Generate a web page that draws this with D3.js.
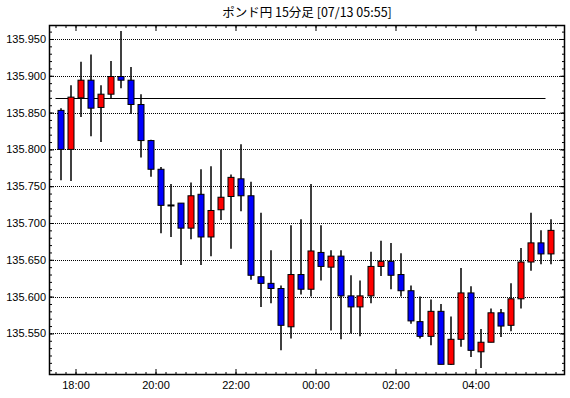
<!DOCTYPE html>
<html>
<head>
<meta charset="utf-8">
<script src="https://cdn.jsdelivr.net/npm/d3@7"></script>
<style>
  body { margin: 0; background: #fff; }
  svg { display: block; }
  .axis text { font-family: "Liberation Sans", Arial, sans-serif; font-size: 11px; fill: #000; }
  .axis line { stroke: #000; stroke-width: 1; }
  .axis path { display: none; }
</style>
</head>
<body>
<div id="chart"></div>
<script>
/* Daten: 15-Minuten-Kerzen GBP/JPY */
const title = "ポンド円 15分足 [07/13 05:55]";
const times = [
  "07/12 17:30", "07/12 17:45", "07/12 18:00", "07/12 18:15", "07/12 18:30", "07/12 18:45",
  "07/12 19:00", "07/12 19:15", "07/12 19:30", "07/12 19:45", "07/12 20:00", "07/12 20:15",
  "07/12 20:30", "07/12 20:45", "07/12 21:00", "07/12 21:15", "07/12 21:30", "07/12 21:45",
  "07/12 22:00", "07/12 22:15", "07/12 22:30", "07/12 22:45", "07/12 23:00", "07/12 23:15",
  "07/12 23:30", "07/12 23:45", "07/13 00:00", "07/13 00:15", "07/13 00:30", "07/13 00:45",
  "07/13 01:00", "07/13 01:15", "07/13 01:30", "07/13 01:45", "07/13 02:00", "07/13 02:15",
  "07/13 02:30", "07/13 02:45", "07/13 03:00", "07/13 03:15", "07/13 03:30", "07/13 03:45",
  "07/13 04:00", "07/13 04:15", "07/13 04:30", "07/13 04:45", "07/13 05:00", "07/13 05:15",
  "07/13 05:30", "07/13 05:45"
];
const open = [
  135.853, 135.800, 135.870, 135.894, 135.857, 135.875, 135.899, 135.894, 135.861, 135.812,
  135.773, 135.7245, 135.727, 135.693, 135.739, 135.681, 135.718, 135.736, 135.760, 135.737,
  135.627, 135.618, 135.611, 135.559, 135.630, 135.610, 135.660, 135.640, 135.655, 135.601,
  135.586, 135.601, 135.641, 135.648, 135.630, 135.608, 135.566, 135.546, 135.580, 135.508,
  135.542, 135.605, 135.525, 135.538, 135.578, 135.561, 135.597, 135.647, 135.673, 135.658
];
const high = [
  135.856, 135.887, 135.919, 135.929, 135.887, 135.920, 135.961, 135.912, 135.875, 135.813,
  135.776, 135.753, 135.727, 135.755, 135.773, 135.777, 135.800, 135.766, 135.807, 135.756,
  135.714, 135.663, 135.615, 135.697, 135.705, 135.753, 135.697, 135.663, 135.663, 135.629,
  135.622, 135.661, 135.676, 135.673, 135.659, 135.615, 135.600, 135.596, 135.590, 135.573,
  135.639, 135.614, 135.556, 135.584, 135.583, 135.618, 135.666, 135.714, 135.690, 135.705
];
const low = [
  135.758, 135.757, 135.844, 135.818, 135.810, 135.869, 135.883, 135.848, 135.789, 135.763,
  135.686, 135.681, 135.643, 135.678, 135.643, 135.655, 135.704, 135.665, 135.716, 135.623,
  135.586, 135.591, 135.527, 135.543, 135.603, 135.600, 135.622, 135.554, 135.542, 135.550,
  135.546, 135.591, 135.628, 135.610, 135.600, 135.563, 135.543, 135.534, 135.508, 135.507,
  135.532, 135.518, 135.503, 135.538, 135.545, 135.553, 135.584, 135.635, 135.644, 135.644
];
const close = [
  135.800, 135.871, 135.894, 135.856, 135.875, 135.899, 135.894, 135.861, 135.812, 135.773,
  135.724, 135.724, 135.693, 135.737, 135.681, 135.717, 135.735, 135.762, 135.737, 135.629,
  135.618, 135.611, 135.561, 135.630, 135.610, 135.662, 135.641, 135.655, 135.601, 135.586,
  135.601, 135.641, 135.648, 135.629, 135.608, 135.567, 135.546, 135.580, 135.508, 135.542,
  135.605, 135.527, 135.538, 135.578, 135.560, 135.597, 135.647, 135.673, 135.658, 135.690
];
/* Referenzlinie */
const refLevel = 135.870;
const refSpan = ["07/12 17:30", "07/13 05:45"];
/* Achsenbereiche und Beschriftungen */
const xDomain = ["07/12 17:20:15", "07/13 06:14:15"];
const xLabelTicks = ["07/12 18:00", "07/12 20:00", "07/12 22:00", "07/13 00:00", "07/13 02:00", "07/13 04:00"];
const yDomain = [135.4935, 135.969];
const yMajorTicks = [135.55, 135.60, 135.65, 135.70, 135.75, 135.80, 135.85, 135.90, 135.95];

const width = 570, height = 398;
const m = { left: 49, right: 5, top: 25, bottom: 23 };

const parse = d3.timeParse("%m/%d %H:%M");
const parseS = d3.timeParse("%m/%d %H:%M:%S");
const candles = times.map((t, i) => ({
  t: parse(t), o: open[i], h: high[i], l: low[i], c: close[i]
}));

const x = d3.scaleTime()
  .domain(xDomain.map(parseS))
  .range([m.left, width - m.right]);
const y = d3.scaleLinear()
  .domain(yDomain)
  .range([height - m.bottom, m.top]);

const svg = d3.select("#chart").append("svg")
  .attr("width", width)
  .attr("height", height);

/* Titel */
svg.append("text")
  .attr("x", (m.left + width - m.right) / 2)
  .attr("y", 17)
  .attr("text-anchor", "middle")
  .style("font-family", "'Noto Sans CJK JP', sans-serif")
  .style("font-size", "12.5px")
  .text(title);

/* Gitterlinien (gepunktet) */
svg.append("g")
  .selectAll("line")
  .data(yMajorTicks)
  .join("line")
  .attr("x1", m.left)
  .attr("x2", width - m.right)
  .attr("y1", d => Math.round(y(d)) + 0.5)
  .attr("y2", d => Math.round(y(d)) + 0.5)
  .attr("stroke", "#000")
  .attr("stroke-dasharray", "1,1");

/* Referenzlinie */
svg.append("line")
  .attr("x1", x(parse(refSpan[0])))
  .attr("x2", x(parse(refSpan[1])))
  .attr("y1", Math.round(y(refLevel)) + 0.5)
  .attr("y2", Math.round(y(refLevel)) + 0.5)
  .attr("stroke", "#000")
  .attr("stroke-width", 1);

/* Kerzen */
const half = 7.5 * 60000;
const cx = d => Math.round(x(new Date(d.t.getTime() + half)));

const candle = svg.append("g")
  .selectAll("g")
  .data(candles)
  .join("g");

candle.append("line")
  .attr("x1", d => cx(d))
  .attr("x2", d => cx(d))
  .attr("y1", d => y(d.h))
  .attr("y2", d => y(d.l))
  .attr("stroke", "#000")
  .attr("stroke-width", 1.5);

candle.append("rect")
  .attr("x", d => cx(d) - 3)
  .attr("width", 6)
  .attr("y", d => y(Math.max(d.o, d.c)))
  .attr("height", d => Math.max(1, Math.abs(y(d.o) - y(d.c))))
  .attr("fill", d => d.c > d.o ? "#ff0000" : "#0000ff")
  .attr("stroke", "#000")
  .attr("stroke-width", 1);

/* Achsen (Ticks nach innen) */
const yMinor = d3.range(135.50, 135.965, 0.01);
const xMinor = d3.timeMinute.every(15);
const xMajor = xLabelTicks.map(parse);
const B = height - m.bottom, T = m.top, L = m.left, R = width - m.right;

svg.append("g").attr("class", "axis").attr("transform", `translate(0,${B})`)
  .call(d3.axisBottom(x).ticks(xMinor).tickSize(-3).tickFormat(""));
svg.append("g").attr("class", "axis").attr("transform", `translate(0,${B})`)
  .call(d3.axisBottom(x).tickValues(xMajor).tickSize(-6).tickPadding(6).tickFormat(d3.timeFormat("%H:%M")));
svg.append("g").attr("class", "axis").attr("transform", `translate(0,${T})`)
  .call(d3.axisTop(x).ticks(xMinor).tickSize(-3).tickFormat(""));
svg.append("g").attr("class", "axis").attr("transform", `translate(0,${T})`)
  .call(d3.axisTop(x).tickValues(xMajor).tickSize(-6).tickFormat(""));

svg.append("g").attr("class", "axis").attr("transform", `translate(${L},0)`)
  .call(d3.axisLeft(y).tickValues(yMinor).tickSize(-3).tickFormat(""));
svg.append("g").attr("class", "axis").attr("transform", `translate(${L},0)`)
  .call(d3.axisLeft(y).tickValues(yMajorTicks).tickSize(-5).tickPadding(3).tickFormat(d3.format(".3f")));
svg.append("g").attr("class", "axis").attr("transform", `translate(${R},0)`)
  .call(d3.axisRight(y).tickValues(yMinor).tickSize(-3).tickFormat(""));
svg.append("g").attr("class", "axis").attr("transform", `translate(${R},0)`)
  .call(d3.axisRight(y).tickValues(yMajorTicks).tickSize(-5).tickFormat(""));

/* Rahmen */
svg.append("rect")
  .attr("x", L + 0.5)
  .attr("y", T + 0.5)
  .attr("width", R - L - 1)
  .attr("height", B - T - 1)
  .attr("fill", "none")
  .attr("stroke", "#000")
  .attr("stroke-width", 1.5);
</script>
</body>
</html>
